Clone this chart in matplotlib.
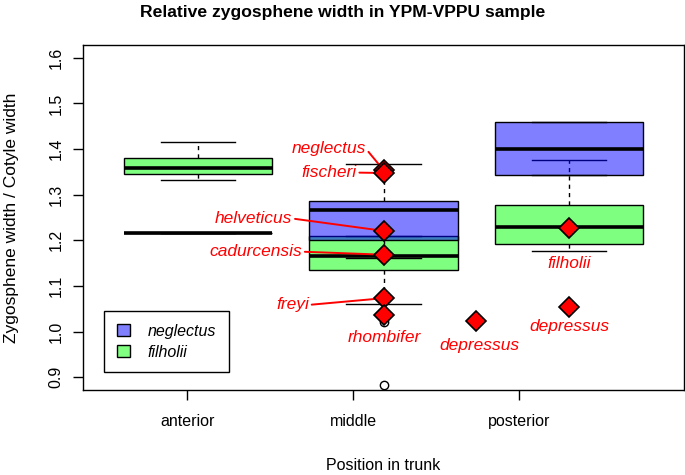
import matplotlib
matplotlib.use("Agg")
import matplotlib.pyplot as plt
from matplotlib.patches import Patch

plt.rcParams['font.family'] = ['Liberation Sans', 'DejaVu Sans']

# tick positions / labels
positions = ['anterior', 'middle', 'posterior']
tick_at = [0.942, 1.837, 2.732]

# box statistics: whislo, q1, med, q3, whishi
negl_lo = [1.2163, 1.1613, 1.3424]
negl_q1 = [1.2163, 1.2016, 1.3424]
negl_med = [1.2163, 1.2660, 1.3997]
negl_q3 = [1.2163, 1.2867, 1.4584]
negl_hi = [1.2163, 1.3682, 1.4584]
negl_out = [[], [], []]

filh_lo = [1.3312, 1.0600, 1.1773]
filh_q1 = [1.3462, 1.1355, 1.1912]
filh_med = [1.3594, 1.1663, 1.2286]
filh_q3 = [1.3814, 1.2088, 1.2780]
filh_hi = [1.4158, 1.2088, 1.3754]
filh_out = [[], [1.021, 0.882], []]

# individual specimens (red diamonds)
sp_names = ['neglectus', 'fischeri', 'helveticus', 'cadurcensis', 'freyi',
            'rhombifer', 'depressus', 'depressus', 'filholii']
sp_x = [2, 2, 2, 2, 2, 2, 2.5, 3, 3]
sp_y = [1.3541, 1.3475, 1.2207, 1.1685, 1.0732, 1.0365, 1.0233, 1.0548, 1.2268]
# label anchors
lab_x = [1.904, 1.855, 1.508, 1.561, 1.598, 2.003, 2.520, 3.0, 3.0]
lab_y = [1.4012, 1.3484, 1.2478, 1.1751, 1.0585, 0.9874, 0.9704, 1.0107, 1.1487]
lab_ha = ['right', 'right', 'right', 'right', 'right', 'center', 'center', 'center', 'center']
lab_line = [True, True, True, True, True, False, False, False, False]


def stats(lo, q1, med, q3, hi, out):
    return [dict(whislo=lo[i], q1=q1[i], med=med[i], q3=q3[i], whishi=hi[i],
                 fliers=out[i]) for i in range(len(lo))]


fig = plt.figure(figsize=(6.85, 4.75), dpi=100)
ax = fig.add_axes([83/685, 1-390/475, 601/685, 345/475])

common = dict(positions=[1, 2, 3], widths=0.8, capwidths=0.4, patch_artist=True,
              showfliers=True, manage_ticks=False,
              medianprops=dict(color='black', lw=2.6, solid_capstyle='butt'),
              whiskerprops=dict(color='black', lw=1, linestyle=(0, (3, 3))),
              capprops=dict(color='black', lw=1),
              flierprops=dict(marker='o', markerfacecolor='white', markeredgecolor='black',
                              markersize=6, markeredgewidth=1))

ax.bxp(stats(filh_lo, filh_q1, filh_med, filh_q3, filh_hi, filh_out),
       boxprops=dict(facecolor=(0, 1, 0, 0.5), edgecolor='black', lw=1), **common)
ax.bxp(stats(negl_lo, negl_q1, negl_med, negl_q3, negl_hi, negl_out),
       boxprops=dict(facecolor=(0, 0, 1, 0.5), edgecolor='black', lw=1), **common)

for i in range(len(sp_names)):
    if lab_line[i]:
        ax.annotate(sp_names[i], xy=(sp_x[i], sp_y[i]), xytext=(lab_x[i], lab_y[i]),
                    ha=lab_ha[i], va='center', color='red', style='italic', fontsize=12.5,
                    arrowprops=dict(arrowstyle='-', color='red', lw=1.4,
                                    shrinkA=0, shrinkB=0, relpos=(1, 0.5)), zorder=6)
    else:
        ax.text(lab_x[i], lab_y[i], sp_names[i], ha=lab_ha[i], va='center',
                color='red', style='italic', fontsize=12.5, zorder=6)

ax.plot(sp_x, sp_y, linestyle='none', marker='D', markersize=10.5,
        markerfacecolor='red', markeredgecolor='black', markeredgewidth=1.2, zorder=7)

ax.set_xlim(0.38, 3.62)
ax.set_ylim(0.872, 1.628)
ax.set_xticks(tick_at)
ax.set_xticklabels(positions)
ax.set_yticks([0.9, 1.0, 1.1, 1.2, 1.3, 1.4, 1.5, 1.6])
ax.set_yticklabels(['0.9', '1.0', '1.1', '1.2', '1.3', '1.4', '1.5', '1.6'])
ax.tick_params(axis='both', direction='out', length=7, width=1, labelsize=11.5)
ax.tick_params(axis='x', pad=10)
ax.tick_params(axis='y', labelrotation=90, pad=7)
for lbl in ax.get_yticklabels():
    lbl.set_va('center')
for s in ax.spines.values():
    s.set_linewidth(1)

ax.set_xlabel('Position in trunk', fontsize=11.5)
ax.xaxis.set_label_coords(0.5, -(465-390)/345)
ax.xaxis.label.set_va('center')
ax.set_ylabel('Zygosphene width / Cotyle width', fontsize=12.5)
ax.yaxis.set_label_coords(-(83-12)/601, 0.5)
ax.yaxis.label.set_va('center')

fig.text(0.5, 1-13/475, 'Relative zygosphene width in YPM-VPPU sample',
         ha='center', va='center', fontsize=12.6, fontweight='bold')

handles = [Patch(facecolor='#8080FF', edgecolor='black', lw=1),
           Patch(facecolor='#80FF80', edgecolor='black', lw=1)]
leg = ax.legend(handles, ['neglectus', 'filholii'], loc='lower left',
                bbox_to_anchor=(0.0354, 0.0513), borderaxespad=0, fancybox=False,
                edgecolor='black', framealpha=1, handlelength=0.8, handleheight=0.8,
                handletextpad=1.1, borderpad=0.8, labelspacing=0.35,
                prop=dict(style='italic', size=11.5))
leg.get_frame().set_linewidth(1)

fig.savefig('out.png', dpi=100)
